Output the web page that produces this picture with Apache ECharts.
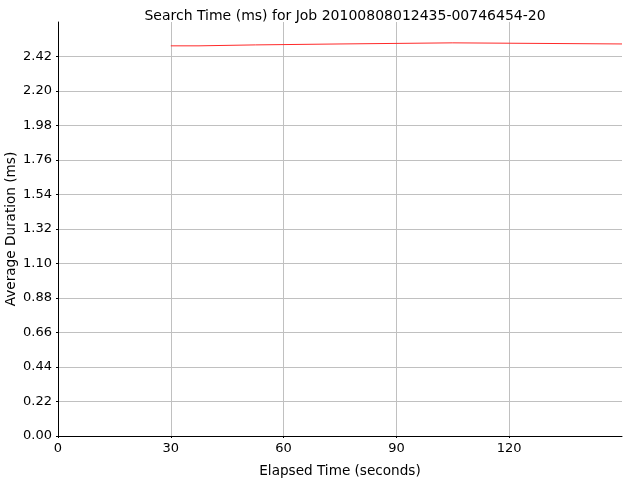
<!DOCTYPE html>
<html>
<head>
<meta charset="utf-8">
<script src="https://cdn.jsdelivr.net/npm/echarts@6/dist/echarts.min.js"></script>
<style>html,body{margin:0;padding:0;background:#fff}#c{width:640px;height:480px}</style>
</head>
<body>
<div id="c"></div>
<script>
var titleText = 'Search Time (ms) for Job 20100808012435-00746454-20';
var xName = 'Elapsed Time (seconds)';
var yName = 'Average Duration (ms)';
var elapsedSeconds = [30, 37.5, 52.5, 75, 105, 150];
var avgDuration = [2.488, 2.494, 2.500, 2.507, 2.500, 2.500];
var xMin = 0, xMax = 150, xStep = 30;
var yMin = 0, yMax = 2.64, yStep = 0.22;

var points = elapsedSeconds.map(function (x, i) { return [x, avgDuration[i]]; });
var font = 'DejaVu Sans';
var chart = echarts.init(document.getElementById('c'), null, {renderer: 'canvas'});
chart.setOption({
  animation: false,
  backgroundColor: '#ffffff',
  title: {
    text: titleText, left: 340, top: 4, textAlign: 'center',
    textStyle: {fontFamily: font, fontSize: 14, fontWeight: 'normal', color: '#000'}
  },
  grid: {left: 58, right: 18, top: 22, bottom: 44, containLabel: false, outerBoundsMode: 'none'},
  xAxis: {
    type: 'value', min: xMin, max: xMax, interval: xStep,
    name: xName, nameLocation: 'middle', nameGap: 28, nameMoveOverlap: false,
    nameTextStyle: {fontFamily: font, fontSize: 13.6, color: '#000'},
    axisLine: {show: true, onZero: false, lineStyle: {color: '#000', width: 1}},
    axisTick: {show: true, length: 2, inside: false, lineStyle: {color: '#000'}},
    axisLabel: {fontFamily: font, fontSize: 13, color: '#000', margin: 6, showMaxLabel: false},
    splitLine: {show: true, showMinLine: false, showMaxLine: false, lineStyle: {color: '#c0c0c0', width: 1, type: 'solid'}}
  },
  yAxis: {
    type: 'value', min: yMin, max: yMax, interval: yStep,
    name: yName, nameLocation: 'middle', nameGap: 40, nameMoveOverlap: false,
    nameTextStyle: {fontFamily: font, fontSize: 13.6, color: '#000'},
    axisLine: {show: true, onZero: false, lineStyle: {color: '#000', width: 1}},
    axisTick: {show: true, length: 2, inside: false, lineStyle: {color: '#000'}},
    axisLabel: {
      fontFamily: font, fontSize: 13, color: '#000', margin: 6, showMaxLabel: false,
      formatter: function (v) { return v >= yMax - 1e-6 ? '' : v.toFixed(2); }
    },
    splitLine: {show: true, showMinLine: false, showMaxLine: false, lineStyle: {color: '#c0c0c0', width: 1, type: 'solid'}}
  },
  series: [{
    type: 'line', data: points, step: 'end', showSymbol: false, symbol: 'none',
    lineStyle: {color: '#ff2a2a', width: 1}, itemStyle: {color: '#ff2a2a'}
  }]
});
</script>
</body>
</html>
